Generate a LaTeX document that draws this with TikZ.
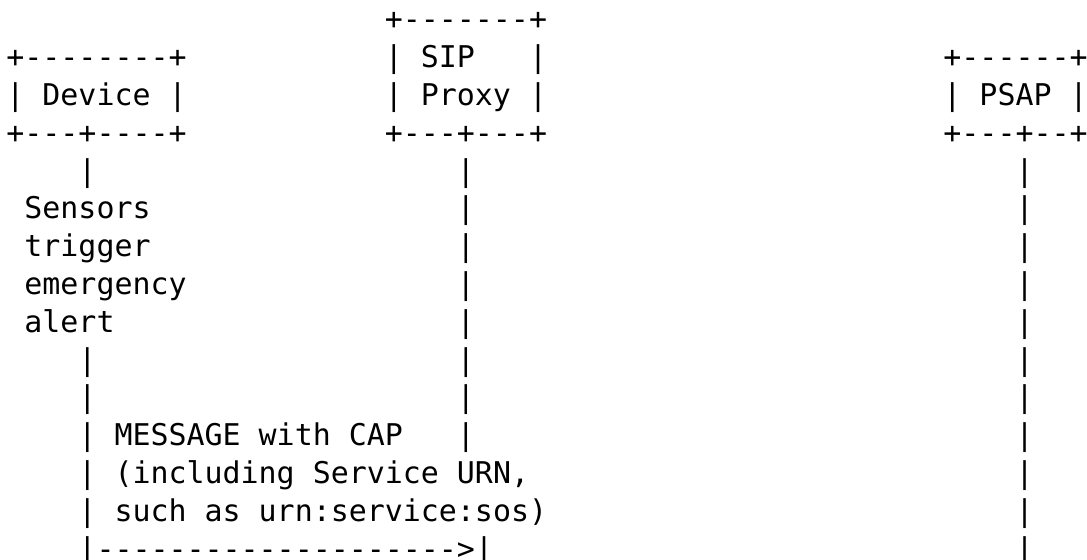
\documentclass[tikz,border=0pt]{standalone}
\usepackage{fontspec}
\setmonofont{DejaVu Sans Mono}

\begin{document}
\begin{tikzpicture}

% Define character grid (one column and one line of the drawing)
\def\cw{9.01pt}
\def\lh{18.9pt}
% Define text style
\tikzset{ascii/.style={
        inner sep=0pt, anchor=base west,
        font=\ttfamily\fontsize{14.97pt}{18.9pt}\selectfont} % Monospace characters
        }

% Page size
\useasboundingbox (0pt,0pt) rectangle (543.5pt,-279.5pt);

\begin{scope}[shift={(3pt,-14.9pt)}, x=\cw, y=-\lh]

% Device box
\node[ascii] (devTop) at (0,1) {+--------+};
\node[ascii] (devName) at (0,2) {| Device |};
\node[ascii] (devBot) at (0,3) {+---+----+};

% SIP Proxy box
\node[ascii] (sipTop) at (21,0) {+-------+};
\node[ascii] (sipName) at (21,1) {| SIP~~~|};
\node[ascii] (sipProxy) at (21,2) {| Proxy |};
\node[ascii] (sipBot) at (21,3) {+---+---+};

% PSAP box
\node[ascii] (psapTop) at (52,1) {+------+};
\node[ascii] (psapName) at (52,2) {| PSAP |};
\node[ascii] (psapBot) at (52,3) {+---+--+};

% Lifelines
\foreach \r in {4,9,10,11,12,13} \node[ascii] (devLine\r) at (4,\r) {|};
\foreach \r in {4,...,11} \node[ascii] (sipLine\r) at (25,\r) {|};
\foreach \r in {4,...,14} \node[ascii] (psapLine\r) at (56,\r) {|};

% Note under the device
\node[ascii] (sensors) at (1,5) {Sensors};
\node[ascii] (trigger) at (1,6) {trigger};
\node[ascii] (emergency) at (1,7) {emergency};
\node[ascii] (alert) at (1,8) {alert};

% MESSAGE from device to proxy
\node[ascii] (msgA) at (6,11) {MESSAGE with CAP};
\node[ascii] (msgB) at (6,12) {(including Service URN,};
\node[ascii] (msgC) at (6,13) {such as urn:service:sos)};
\node[ascii] (msgArrow) at (4,14) {|-------------------->|};

\end{scope}

\end{tikzpicture}
\end{document}
